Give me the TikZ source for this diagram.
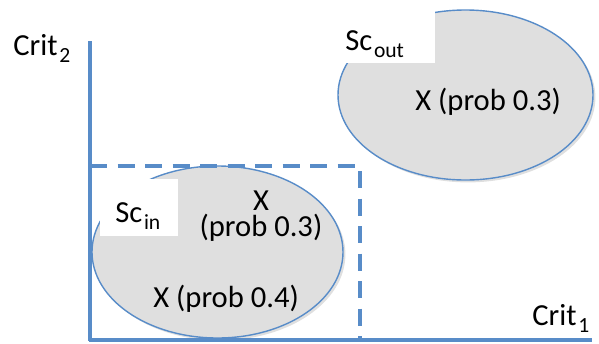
\documentclass[tikz,border=0pt]{standalone}
\usepackage{fontspec}
\setmainfont{Carlito}
\usepackage{tikz}
\usetikzlibrary{calc,positioning,shadows}
\definecolor{axisblue}{RGB}{88,140,200}
\definecolor{setgray}{RGB}{223,223,223}
\newcommand{\critsub}[1]{\kern0.8pt\raisebox{-3.6pt}{\fontsize{10.8}{12}\selectfont #1}}
\tikzset{
	axisline/.style={line width=1.8pt, color=axisblue},
	regionline/.style={line width=1.8pt, color=axisblue, dash pattern=on 8.5pt off 5.25pt},
	setshape/.style={line width=0.7pt, draw=axisblue, fill=setgray,
		drop shadow={opacity=0.25, shadow xshift=1.2pt, shadow yshift=-1.2pt}},
	txt/.style={inner sep=0pt, anchor=base west},
	setlabel/.style={fill=white, inner ysep=0pt, align=left, anchor=base west},
}

\begin{document}
\begin{tikzpicture}[x=0.5pt,y=-0.5pt,font=\fontsize{15.3}{18}\selectfont]
\useasboundingbox (0,0) rectangle (599,343);

       \coordinate (O) at (90,340);
       \coordinate (Ytop) at (90,41);
       \coordinate (Xend) at (592,340);
       
       \coordinate (Rtl) at (90,166);
       \coordinate (Rtr) at (360,166);
       \coordinate (Rbr) at (360,340);
       
       \coordinate (Cin) at (217.5,252);
       \coordinate (Cout) at (465.5,95);
       
       % the two scenario sets
       \draw[setshape] (Cin) ellipse [x radius=125.5, y radius=86];
       \draw[setshape] (Cout) ellipse [x radius=127.5, y radius=85];
       
       \node[setlabel, inner xsep=6pt, text width=39pt, text height=20pt, text depth=6.5pt] (scout) at (333,50) {Sc\critsub{out}};
       \node[setlabel, inner xsep=7.5pt, text width=24pt, text height=21.5pt, text depth=7pt] (scin) at (100,222) {Sc\critsub{in}};
       
       \node[txt] (pout) at (415,110) {X (prob 0.3)};
       \node[txt] (pinb) at (153,307) {X (prob 0.4)};
       \node[inner sep=0pt, align=center, font=\fontsize{15.3}{12.8}\selectfont] (pina) at (261,216) {X\\(prob 0.3)};
       
       % axes
       \draw[axisline] (Ytop) -- ($(O)+(0,1)$);
       \draw[axisline] ($(O)+(-1,0)$) -- (Xend);
       
       \draw[regionline] (Rtl) -- (Rtr) -- (Rbr);
       
       \node[txt] (crit2) at (13,55) {Crit\critsub{2}};
       \node[txt] (crit1) at (532,325) {Crit\critsub{1}};
\end{tikzpicture}
\end{document}
